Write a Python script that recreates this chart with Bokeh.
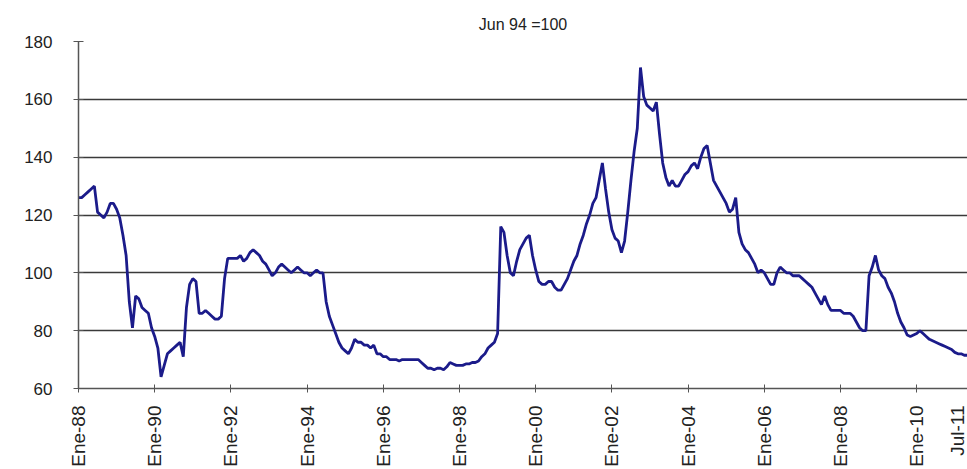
import math
from bokeh.plotting import figure
from bokeh.models import FixedTicker, Range1d, Title
from bokeh.embed import file_html
from bokeh.resources import INLINE

subtitle = "Jun 94 =100"

# monthly index values (Jan-88 ... Jul-11), one list per year
y1988 = [126, 126, 127, 128, 129, 130, 121, 120, 119, 121, 124, 124]
y1989 = [122, 119, 113, 106, 90, 81, 92, 91, 88, 87, 86, 81]
y1990 = [78, 74, 64, 68, 72, 73, 74, 75, 76, 71, 88, 96]
y1991 = [98, 97, 86, 86, 87, 86, 85, 84, 84, 85, 98, 105]
y1992 = [105, 105, 105, 106, 104, 105, 107, 108, 107, 106, 104, 103]
y1993 = [101, 99, 100, 102, 103, 102, 101, 100, 101, 102, 101, 100]
y1994 = [100, 99, 100, 101, 100, 100, 90, 85, 82, 79, 76, 74]
y1995 = [73, 72, 74, 77, 76, 76, 75, 75, 74, 75, 72, 72]
y1996 = [71, 71, 70, 70, 70, 69.5, 70, 70, 70, 70, 70, 70]
y1997 = [69, 68, 67, 67, 66.5, 67, 67, 66.5, 67.5, 69, 68.5, 68]
y1998 = [68, 68, 68.5, 68.5, 69, 69, 69.5, 71, 72, 74, 75, 76]
y1999 = [79, 116, 114, 106, 100, 99, 104, 108, 110, 112, 113, 106]
y2000 = [101, 97, 96, 96, 97, 97, 95, 94, 94, 96, 98, 101]
y2001 = [104, 106, 110, 113, 117, 120, 124, 126, 132, 138, 129, 121]
y2002 = [115, 112, 111, 107, 111, 121, 132, 142, 150, 171, 161, 158]
y2003 = [157, 156, 159, 148, 138, 133, 130, 132, 130, 130, 132, 134]
y2004 = [135, 137, 138, 136, 140, 143, 144, 138, 132, 130, 128, 126]
y2005 = [124, 121, 122, 126, 114, 110, 108, 107, 105, 103, 100, 101]
y2006 = [100, 98, 96, 96, 100, 102, 101, 100, 100, 99, 99, 99]
y2007 = [98, 97, 96, 95, 93, 91, 89, 92, 89, 87, 87, 87]
y2008 = [87, 86, 86, 86, 85, 83, 81, 80, 80, 99, 102, 106]
y2009 = [101, 99, 98, 95, 93, 90, 86, 83, 81, 78.5, 78, 78.5]
y2010 = [79, 80, 79, 78, 77, 76.5, 76, 75.5, 75, 74.5, 74, 73.5]
y2011 = [72.5, 72, 72, 71.5, 71.5]

values = (y1988 + y1989 + y1990 + y1991 + y1992 + y1993 + y1994 + y1995 +
          y1996 + y1997 + y1998 + y1999 + y2000 + y2001 + y2002 + y2003 +
          y2004 + y2005 + y2006 + y2007 + y2008 + y2009 + y2010 + y2011)
months = list(range(len(values)))

x_tick_labels = ["Ene-88", "Ene-90", "Ene-92", "Ene-94", "Ene-96", "Ene-98",
                 "Ene-00", "Ene-02", "Ene-04", "Ene-06", "Ene-08", "Ene-10", "Jul-11"]
y_ticks = [60, 80, 100, 120, 140, 160, 180]

x_tick_pos = [24 * i for i in range(len(x_tick_labels) - 1)] + [months[-1]]

FONT = "Liberation Sans"

p = figure(width=967, height=469, output_backend="svg", toolbar_location=None,
           x_range=Range1d(0, months[-1]), y_range=Range1d(60, 180),
           min_border_left=78, min_border_right=0, min_border_top=41,
           min_border_bottom=80)
p.background_fill_color = "white"
p.border_fill_color = "white"
p.outline_line_color = None

t = Title(text=subtitle, align="center", text_font=FONT, text_font_size="16px",
          text_font_style="normal", text_color="#222222", standoff=17)
p.add_layout(t, "above")

p.line(months, values, line_color="#1b1b8a", line_width=2.8)

p.xgrid.grid_line_color = None
p.ygrid.ticker = FixedTicker(ticks=y_ticks)
p.ygrid.grid_line_color = "#3a3a3a"
p.ygrid.grid_line_width = 1.6

p.yaxis.ticker = FixedTicker(ticks=y_ticks)
p.yaxis.axis_line_color = "#555555"
p.yaxis.axis_line_width = 1.5
p.yaxis.major_tick_in = 5
p.yaxis.major_tick_out = 5
p.yaxis.major_tick_line_color = "#555555"
p.yaxis.minor_tick_line_color = None
p.yaxis.major_label_text_font = FONT
p.yaxis.major_label_text_font_size = "17px"
p.yaxis.major_label_text_color = "#222222"
p.yaxis.major_label_standoff = 21

p.xaxis.ticker = FixedTicker(ticks=x_tick_pos)
p.xaxis.major_label_overrides = {pos: lab for pos, lab in zip(x_tick_pos, x_tick_labels)}
p.xaxis.major_label_orientation = math.pi / 2
p.xaxis.axis_line_color = "#555555"
p.xaxis.axis_line_width = 1.5
p.xaxis.major_tick_in = 4
p.xaxis.major_tick_out = 4
p.xaxis.major_tick_line_color = "#555555"
p.xaxis.minor_tick_line_color = None
p.xaxis.major_label_text_font = FONT
p.xaxis.major_label_text_font_size = "19px"
p.xaxis.major_label_text_color = "#222222"
p.xaxis.major_label_standoff = 13

open("out.html", "w").write(file_html(p, INLINE))
